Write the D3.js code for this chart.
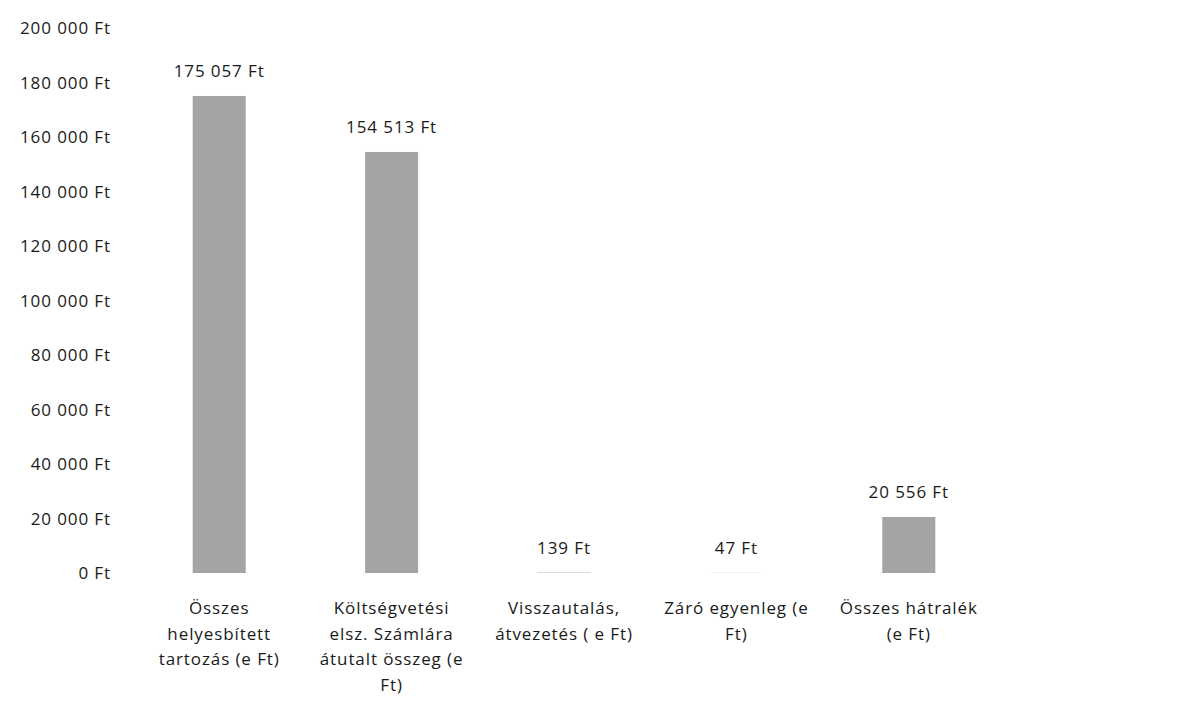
<!DOCTYPE html>
<html lang="hu">
<head>
<meta charset="utf-8">
<title>Hátralék</title>
<script src="https://cdn.jsdelivr.net/npm/d3@7"></script>
<style>
  body { margin: 0; background: #fff; }
  text { font-family: "Open Sans", sans-serif; fill: #1a1a1a; letter-spacing: 0.9px; }
</style>
</head>
<body>
<script>
// data (line breaks as in the original labels)
var categories = [
  "Összes\nhelyesbített\ntartozás (e Ft)",
  "Költségvetési\nelsz. Számlára\nátutalt összeg (e\nFt)",
  "Visszautalás,\nátvezetés ( e Ft)",
  "Záró egyenleg (e\nFt)",
  "Összes hátralék\n(e Ft)"
];
var values = [175057, 154513, 139, 47, 20556];
var yTicks = [0, 20000, 40000, 60000, 80000, 100000, 120000, 140000, 160000, 180000, 200000];

var w = 1188, h = 701;
var svg = d3.select("body").append("svg").attr("width", w).attr("height", h);

var hu = d3.formatLocale({ decimal: ",", thousands: " ", grouping: [3], currency: ["", " Ft"] });
var fmt = function(v) { return hu.format(",")(v) + " Ft"; };

var x = d3.scaleBand().domain(categories).range([133, 995]);
var y = d3.scaleLinear().domain([0, 200000]).range([573, 28]);
var barW = 53;

// y axis labels (no axis line)
svg.selectAll(".ytick")
  .data(yTicks)
  .enter().append("text")
  .attr("class", "ytick")
  .attr("x", 111)
  .attr("y", function(d) { return y(d) + 6; })
  .attr("text-anchor", "end")
  .attr("font-size", "17px")
  .text(function(d) { return fmt(d); });

// bars
svg.selectAll("rect")
  .data(values)
  .enter().append("rect")
  .attr("x", function(d, i) { return x(categories[i]) + x.bandwidth() / 2 - barW / 2; })
  .attr("y", function(d) { return y(d); })
  .attr("width", barW)
  .attr("height", function(d) { return y(0) - y(d); })
  .attr("fill", "#a4a4a4");

// value labels
svg.selectAll(".val")
  .data(values)
  .enter().append("text")
  .attr("class", "val")
  .attr("x", function(d, i) { return x(categories[i]) + x.bandwidth() / 2; })
  .attr("y", function(d) { return y(d) - 19; })
  .attr("text-anchor", "middle")
  .attr("font-size", "17px")
  .text(function(d) { return fmt(d); });

// category labels
svg.selectAll(".cat")
  .data(categories)
  .enter().append("text")
  .attr("class", "cat")
  .attr("font-size", "17px")
  .attr("text-anchor", "middle")
  .attr("y", 614)
  .each(function(d) {
    var cx = x(d) + x.bandwidth() / 2;
    d3.select(this).selectAll("tspan")
      .data(d.split("\n"))
      .enter().append("tspan")
      .attr("x", cx)
      .attr("dy", function(t, i) { return i ? 25.5 : 0; })
      .text(function(t) { return t; });
  });
</script>
</body>
</html>
